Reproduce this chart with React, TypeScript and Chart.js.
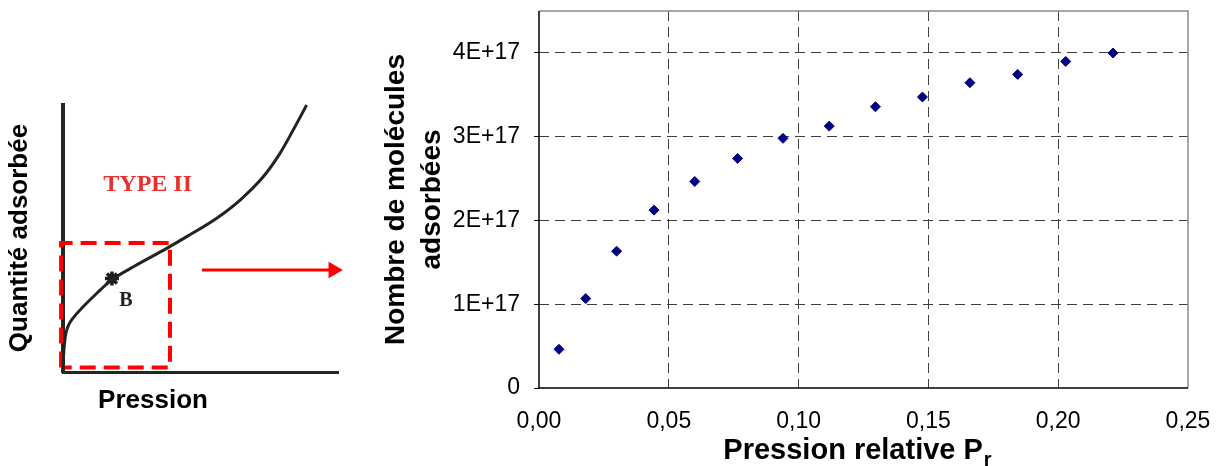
import React, { useEffect, useRef } from 'react';
import { Chart, registerables } from 'chart.js';

Chart.register(...registerables);

// ---------- Right chart: measured data ----------
const pressionRelative = [0.0077, 0.018, 0.0299, 0.0443, 0.060, 0.0765, 0.094, 0.1118, 0.1296, 0.1477, 0.166, 0.1844, 0.2029, 0.2211];
const moleculesAdsorbees = [0.462e17, 1.067e17, 1.633e17, 2.123e17, 2.465e17, 2.74e17, 2.98e17, 3.126e17, 3.357e17, 3.473e17, 3.644e17, 3.743e17, 3.898e17, 3.999e17];
const xTickValues = [0, 0.05, 0.1, 0.15, 0.2, 0.25];
const xTickLabels = ['0,00', '0,05', '0,10', '0,15', '0,20', '0,25'];
const yTickValues = [0, 1e17, 2e17, 3e17, 4e17];
const yTickLabels = ['0', '1E+17', '2E+17', '3E+17', '4E+17'];
const yTitleLines = ['Nombre de molécules', 'adsorbées'];
const xTitleMain = 'Pression relative P';
const xTitleSub = 'r';

// ---------- Left sketch: type II isotherm (normalised units) ----------
const isothermeP = [0, 0.002, 0.008, 0.018, 0.035, 0.074, 0.123, 0.177, 0.256, 0.377, 0.45, 0.559, 0.644, 0.728, 0.789, 0.837, 0.886];
const isothermeQ = [0, 0.06, 0.13, 0.17, 0.2, 0.245, 0.295, 0.345, 0.394, 0.463, 0.507, 0.576, 0.644, 0.731, 0.819, 0.906, 1.0];
const zoneP = [-0.007, -0.007, 0.389, 0.389, -0.007];
const zoneQ = [0.017, 0.483, 0.483, 0.017, 0.017];
const pointB = { x: 0.178, y: 0.35 };
const flecheP = [0.505, 0.972];
const flecheQ = [0.382, 0.382];
const flechePointe = { x: 0.983, y: 0.382 };
const labelType = { text: 'TYPE II', x: 0.308, y: 0.7 };
const labelB = { text: 'B', x: 0.229, y: 0.266 };
const sketchXTitle = 'Pression';
const sketchYTitle = 'Quantité adsorbée';

const SANS = '"Liberation Sans", Arial, sans-serif';
const SERIF = '"Liberation Serif", "Times New Roman", serif';

function SketchChart() {
  const ref = useRef<HTMLCanvasElement | null>(null);
  useEffect(() => {
    const canvas = ref.current!;
    const textPlugin = {
      id: 'sketchText',
      afterDatasetsDraw(chart: any) {
        const { ctx } = chart;
        const xs = chart.scales.x;
        const ys = chart.scales.y;
        ctx.save();
        ctx.textAlign = 'center';
        ctx.textBaseline = 'middle';
        ctx.fillStyle = '#e8302e';
        ctx.font = `bold 24px ${SERIF}`;
        ctx.fillText(labelType.text, xs.getPixelForValue(labelType.x), ys.getPixelForValue(labelType.y));
        ctx.fillStyle = '#222';
        ctx.font = `bold 20px ${SERIF}`;
        ctx.fillText(labelB.text, xs.getPixelForValue(labelB.x), ys.getPixelForValue(labelB.y));
        ctx.fillStyle = '#000';
        ctx.font = `bold 26px ${SANS}`;
        ctx.fillText(sketchXTitle, 153, 401);
        ctx.translate(20, 238);
        ctx.rotate(-Math.PI / 2);
        ctx.fillText(sketchYTitle, 0, 0);
        ctx.restore();
      },
    };
    const chart = new Chart(canvas, {
      type: 'line',
      data: {
        datasets: [
          {
            data: isothermeP.map((p, i) => ({ x: p, y: isothermeQ[i] })),
            borderColor: '#24231e',
            borderWidth: 3,
            cubicInterpolationMode: 'monotone',
            pointRadius: 0,
            clip: false,
          } as any,
          {
            data: [pointB],
            showLine: false,
            pointStyle: 'star',
            pointRadius: 7,
            borderWidth: 3.5,
            borderColor: '#1c1c1c',
            backgroundColor: '#1c1c1c',
            clip: false,
          },
          {
            data: zoneP.map((p, i) => ({ x: p, y: zoneQ[i] })),
            borderColor: '#ff0000',
            borderWidth: 4,
            borderDash: [16, 8],
            tension: 0,
            pointRadius: 0,
            clip: false,
          },
          {
            data: flecheP.map((p, i) => ({ x: p, y: flecheQ[i] })),
            borderColor: '#ff0000',
            borderWidth: 3,
            pointRadius: 0,
            clip: false,
          },
          {
            data: [flechePointe],
            showLine: false,
            pointStyle: 'triangle',
            rotation: 90,
            pointRadius: 9.5,
            borderWidth: 0,
            backgroundColor: '#ff0000',
            borderColor: '#ff0000',
            clip: false,
          },
        ],
      },
      options: {
        responsive: false,
        animation: false,
        layout: { padding: { left: 63, top: 105, right: 38, bottom: 94 } },
        plugins: { legend: { display: false }, tooltip: { enabled: false } },
        scales: {
          x: {
            type: 'linear',
            min: 0,
            max: 1,
            afterFit: (s: any) => { s.height = 0; s.paddingLeft = 0; s.paddingRight = 0; },
            ticks: { display: false },
            grid: { display: true, drawOnChartArea: false, drawTicks: false },
            border: { display: true, color: '#26251f', width: 3 },
          },
          y: {
            type: 'linear',
            min: 0,
            max: 1,
            afterFit: (s: any) => { s.width = 0; s.paddingTop = 0; s.paddingBottom = 0; },
            ticks: { display: false },
            grid: { display: true, drawOnChartArea: false, drawTicks: false },
            border: { display: true, color: '#26251f', width: 4 },
          },
        },
      },
      plugins: [textPlugin],
    });
    return () => chart.destroy();
  }, []);
  return (
    <canvas
      ref={ref}
      width={376}
      height={466}
      style={{ position: 'absolute', left: 0, top: 0, width: 376, height: 466, display: 'block' }}
    />
  );
}

function ScatterChart() {
  const ref = useRef<HTMLCanvasElement | null>(null);
  useEffect(() => {
    const canvas = ref.current!;
    const framePlugin = {
      id: 'frameAndTitle',
      afterDraw(chart: any) {
        const { ctx, chartArea } = chart;
        const { left, right, top, bottom } = chartArea;
        ctx.save();
        ctx.setLineDash([]);
        ctx.strokeStyle = '#8a8a8a';
        ctx.lineWidth = 1.5;
        ctx.beginPath();
        ctx.moveTo(left, top);
        ctx.lineTo(right, top);
        ctx.lineTo(right, bottom);
        ctx.stroke();
        ctx.strokeStyle = '#000';
        ctx.lineWidth = 1.5;
        ctx.beginPath();
        ctx.moveTo(left, top);
        ctx.lineTo(left, bottom);
        ctx.lineTo(right, bottom);
        ctx.stroke();
        // x title with subscript
        ctx.fillStyle = '#000';
        ctx.textAlign = 'left';
        ctx.textBaseline = 'alphabetic';
        ctx.font = `bold 29px ${SANS}`;
        const wMain = ctx.measureText(xTitleMain).width;
        ctx.font = `bold 20px ${SANS}`;
        const wSub = ctx.measureText(xTitleSub).width;
        const cx = (left + right) / 2 - 6;
        const x0 = cx - (wMain + wSub + 1) / 2;
        ctx.font = `bold 29px ${SANS}`;
        ctx.fillText(xTitleMain, x0, 459);
        ctx.font = `bold 20px ${SANS}`;
        ctx.fillText(xTitleSub, x0 + wMain + 1, 466);
        ctx.restore();
      },
    };
    const chart = new Chart(canvas, {
      type: 'scatter',
      data: {
        datasets: [
          {
            data: pressionRelative.map((p, i) => ({ x: p, y: moleculesAdsorbees[i] })),
            pointStyle: 'rectRot',
            pointRadius: 5,
            borderWidth: 1,
            backgroundColor: '#000080',
            borderColor: '#000080',
          },
        ],
      },
      options: {
        responsive: false,
        animation: false,
        layout: { padding: { left: 0, top: 11, right: 32, bottom: 0 } },
        plugins: { legend: { display: false }, tooltip: { enabled: false } },
        scales: {
          x: {
            type: 'linear',
            min: 0,
            max: 0.25,
            afterFit: (s: any) => { s.height = 78; s.paddingLeft = 0; s.paddingRight = 0; },
            afterBuildTicks: (s: any) => { s.ticks = xTickValues.map((v) => ({ value: v })); },
            ticks: {
              padding: 20,
              color: '#000',
              font: { size: 23, family: SANS },
              maxRotation: 0,
              autoSkip: false,
              callback: (_v: any, i: number) => xTickLabels[i],
            },
            grid: {
              color: (c: any) => (c.index === 0 || c.index === xTickValues.length - 1 ? 'rgba(0,0,0,0)' : '#404040'),
              lineWidth: 1,
              drawTicks: false,
              borderDash: [10, 6],
            } as any,
            border: { display: false, dash: [10, 6] },
          },
          y: {
            type: 'linear',
            min: 0,
            max: 4.5e17,
            afterFit: (s: any) => { s.width = 163; s.paddingTop = 0; s.paddingBottom = 0; },
            afterBuildTicks: (s: any) => { s.ticks = yTickValues.map((v) => ({ value: v })); },
            ticks: {
              padding: 14,
              color: '#000',
              font: { size: 23, family: SANS },
              callback: (_v: any, i: number) => yTickLabels[i],
            },
            grid: {
              color: (c: any) => (c.index === 0 ? 'rgba(0,0,0,0)' : '#404040'),
              lineWidth: 1,
              drawTicks: true,
              tickLength: 5,
              tickColor: '#000',
              tickWidth: 1,
              borderDash: [10, 6],
            } as any,
            border: { display: false, dash: [10, 6] },
            title: {
              display: true,
              text: yTitleLines,
              color: '#000',
              font: { size: 28, weight: 'bold', family: SANS, lineHeight: 1.3 },
              padding: { top: 2, bottom: 0 },
            },
          },
        },
      },
      plugins: [framePlugin],
    });
    return () => chart.destroy();
  }, []);
  return (
    <canvas
      ref={ref}
      width={844}
      height={466}
      style={{ position: 'absolute', left: 376, top: 0, width: 844, height: 466, display: 'block' }}
    />
  );
}

export default function App() {
  return (
    <div style={{ position: 'absolute', left: 0, top: 0, width: 1220, height: 466, background: '#fff', overflow: 'hidden' }}>
      <SketchChart />
      <ScatterChart />
    </div>
  );
}
